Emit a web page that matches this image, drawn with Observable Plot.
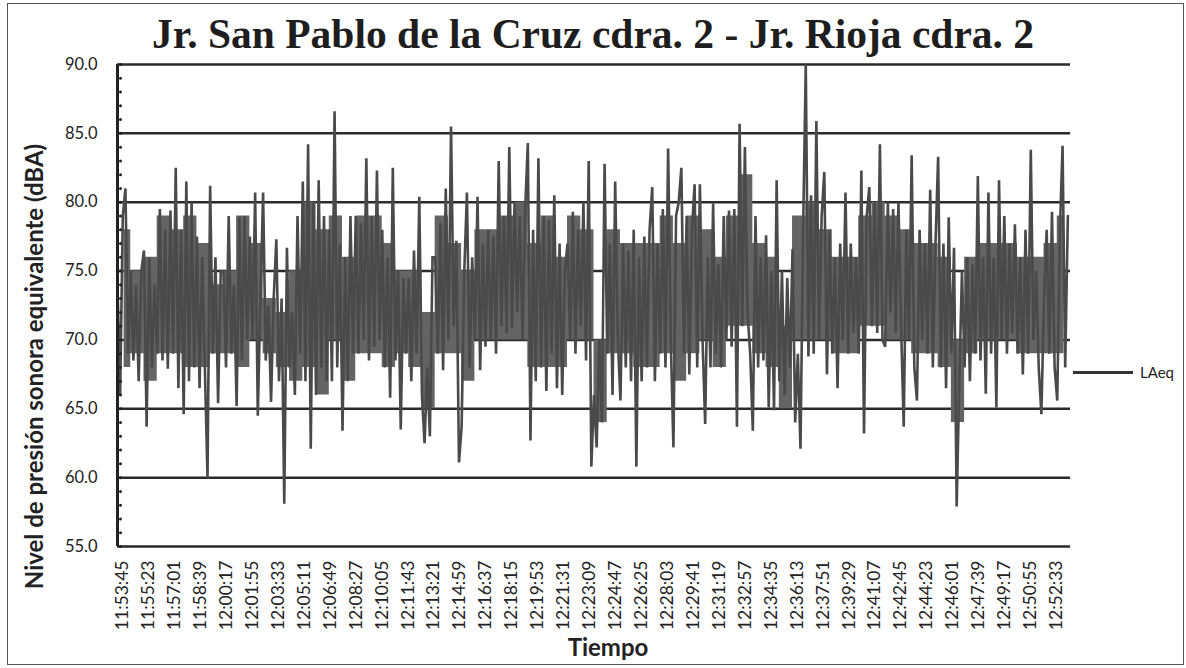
<!DOCTYPE html>
<html><head><meta charset="utf-8">
<script src="https://cdn.jsdelivr.net/npm/d3@7"></script>
<script src="https://cdn.jsdelivr.net/npm/@observablehq/plot@0.6"></script>
<style>
html,body{margin:0;padding:0;background:#fff;}
#wrap{position:relative;width:1186px;height:668px;overflow:hidden;}
#border{position:absolute;left:7px;top:3px;width:1177px;height:662px;border:1.5px solid #555;box-sizing:border-box;}
#title{position:absolute;left:0;top:14px;width:1186px;text-align:center;font-family:"Liberation Serif";font-weight:bold;font-size:41.5px;line-height:1;color:#1e1e1e;}
#chart{position:absolute;left:0;top:56px;}
#legend{position:absolute;left:1073px;top:362px;height:20px;display:flex;align-items:center;font-family:Lato;font-size:15px;color:#222;}
#legend .sw{width:60px;height:3px;background:#333;margin-right:7px;}
</style></head>
<body><div id="wrap">
<div id="border"></div>
<div id="title">Jr. San Pablo de la Cruz cdra. 2 - Jr. Rioja cdra. 2</div>
<div id="chart"></div>
<div id="legend"><div class="sw"></div><span>LAeq</span></div>
</div>
<script>
// LAeq values (dBA), one every 10 s
const values = [
74,66,79,81,69,75,68.5,74,67,75,
76.5,63.7,76,68,74,69,79.5,68.5,78,67.9,
79.4,69,82.5,66.5,78,64.6,81.5,67,80,68,
77.5,66.5,76,68,60,81.2,69,76,65.4,75,
75,68,79,69,74,65.2,78.9,68.5,79,70,
77.5,70,80.7,64.5,73,80.7,68.5,72.5,65.5,73,
77.3,67,73,58.1,76.7,68,72,66,79,69,
81.5,67,84.2,62.1,80,66,81.6,68,79,67,
78,67,86.6,68,77,63.4,76,67,79,69,
79,69,78.5,70,83.2,68.5,79,69.5,82.3,70,
78,68,76,65.8,82.5,68.5,75,63.5,74.5,69,
74.5,67,76.5,69,80.4,66,62.5,68,63,76,
76,69,78.5,67.8,81,70,85.5,71,77.2,61.1,
63.7,75,80.7,68,76,70,80.4,67.8,77,69.5,
78,70,77.5,69,83.0,71,79,70.5,84.0,70.9,
80,72,79,70,79.5,84.3,62.7,78,67,83.2,
68,79,66.3,78.7,69,80.5,66.5,77,66,75,
77,70,79.3,69,78,71,80,68.5,83.0,60.8,
66,62.2,70,64,82.8,69,77,66,81.5,70,
65.6,77,68,76.5,67,78,60.8,76,67,77.5,
68,78,81.1,67,77,69,79.5,68,83.9,70,
62.2,79,80,82.5,69,79,67.5,78,81.3,68,
81.3,70,63.9,76,68,79.9,69,75.5,68,79,
70,79.4,69.5,79.5,63.7,85.7,71,84,72,69,
63.4,79,68,76,68.5,77.6,65.1,75,64.9,81.6,
67,75,66,74.5,68,76.6,64,69,62.1,78,
90.0,68.8,80.5,69,85.9,70,79,82.2,67.5,78,
69,76,66.5,77,70,80.7,69,77,70.5,76,
69,82.3,63.2,79,81.1,71,80,70.5,84.2,70,
69.5,80,72,79.5,70.5,80,71,63.7,78,70,
83.4,68,65.6,78,70,77,69,80.9,68,77,
83.3,68,77,66.5,78.9,69,76.7,57.9,67,75,
68,76,67,75.5,69,81.9,68.5,76,66.1,80.7,
69,76,65.1,81.6,70,79,69,77,70.5,78.4,
69,76,67.5,78,69,83.8,70,75,68,64.6,
73,78,69,79.3,68,65.6,78,84.1,68,79
];
// dense core of the trace (lower / upper edge of the solid band), one pair every 50 s
const coreLow = [68,69,67,69,69,68,68,69,69,68,70,69,68,67,68,66,70,67,69,69,68,69,68,65,69,69,67,70,70,70,70,68,68,68,70,70,64,69,69,68,68,69,67,69,70,68,71,71,69,68,65,70,70,70,69,69,71,71,70,70,69,69,68,64,69,70,70,70,69,69,69,69];
const coreHigh = [78,75,76,79,78,79,77,74,75,79,77,73,72,75,80,78,79,76,79,79,77,75,75,72,79,77,75,78,78,79,80,77,79,76,79,78,70,78,77,77,77,79,77,79,78,76,79,82,77,76,71,79,80,78,76,76,79,80,79,78,77,77,76,70,76,77,77,77,76,76,77,79];
const startTime = "11:53:26";
const stepSeconds = 10;
const coreStepSeconds = 50;
const spanSeconds = 3600;
const tickLabels = ["11:53:45","11:55:23","11:57:01","11:58:39","12:00:17","12:01:55","12:03:33","12:05:11","12:06:49","12:08:27","12:10:05","12:11:43","12:13:21","12:14:59","12:16:37","12:18:15","12:19:53","12:21:31","12:23:09","12:24:47","12:26:25","12:28:03","12:29:41","12:31:19","12:32:57","12:34:35","12:36:13","12:37:51","12:39:29","12:41:07","12:42:45","12:44:23","12:46:01","12:47:39","12:49:17","12:50:55","12:52:33"];
const yMajor = [55,60,65,70,75,80,85,90];
const yMinor = [55,56,57,58,59,60,61,62,63,64,65,66,67,68,69,70,71,72,73,74,75,76,77,78,79,80,81,82,83,84,85,86,87,88,89,90];
const seriesName = "LAeq";
const xTitle = "Tiempo";
const yTitle = "Nivel de presión sonora equivalente (dBA)";

const toSec = s => { const [h,m,x] = s.split(":").map(Number); return h*3600 + m*60 + x; };
const t0 = toSec(startTime);
const data = values.map((v, i) => ({t: t0 + i*stepSeconds, v}));
const core = coreLow.map((lo, i) => ({t: t0 + i*coreStepSeconds + coreStepSeconds/2, lo, hi: coreHigh[i]}));
const tickSecs = tickLabels.map(toSec);
const labelOf = new Map(tickSecs.map((s, i) => [s, tickLabels[i]]));

const chart = Plot.plot({
  width: 1186, height: 612,
  marginLeft: 117, marginRight: 116, marginTop: 8, marginBottom: 122,
  style: {fontFamily: "Lato", fontSize: "16px", color: "#222", background: "transparent", overflow: "visible"},
  x: {domain: [t0, t0 + spanSeconds], label: null},
  y: {domain: [55, 90], label: null},
  marks: [
    Plot.ruleY(yMajor, {stroke: "#2b2b2b", strokeWidth: 2.5}),
    Plot.areaY(core, {x: "t", y1: "lo", y2: "hi", fill: "#646464", curve: "step"}),
    Plot.lineY(data, {x: "t", y: "v", stroke: "#4a4a4a", strokeWidth: 2.6, strokeLinejoin: "miter", strokeMiterlimit: 2}),
    Plot.ruleX([t0], {stroke: "#222", strokeWidth: 3}),
    Plot.dot(yMinor, {x: () => t0, y: d => d, r: 1.5, dx: 3, fill: "#222", stroke: null}),
    Plot.axisY({ticks: yMajor, tickSize: 0, tickPadding: 20, tickFormat: d => d.toFixed(1), fontSize: 16.5}),
    Plot.axisX({ticks: tickSecs, tickFormat: d => labelOf.get(d), tickRotate: -90, tickSize: 0, tickPadding: 14, fontSize: 17.5}),
    Plot.text([yTitle], {frameAnchor: "left", textAnchor: "middle", rotate: -90, dx: -82, dy: 61, fontWeight: "bold", fontSize: 24, lineAnchor: "middle", fill: "#222"}),
    Plot.text([xTitle], {frameAnchor: "bottom", dx: 14, dy: 102, fontWeight: "bold", fontSize: 24, lineAnchor: "middle", fill: "#222"})
  ]
});
document.getElementById("chart").appendChild(chart);
</script>
</body></html>
